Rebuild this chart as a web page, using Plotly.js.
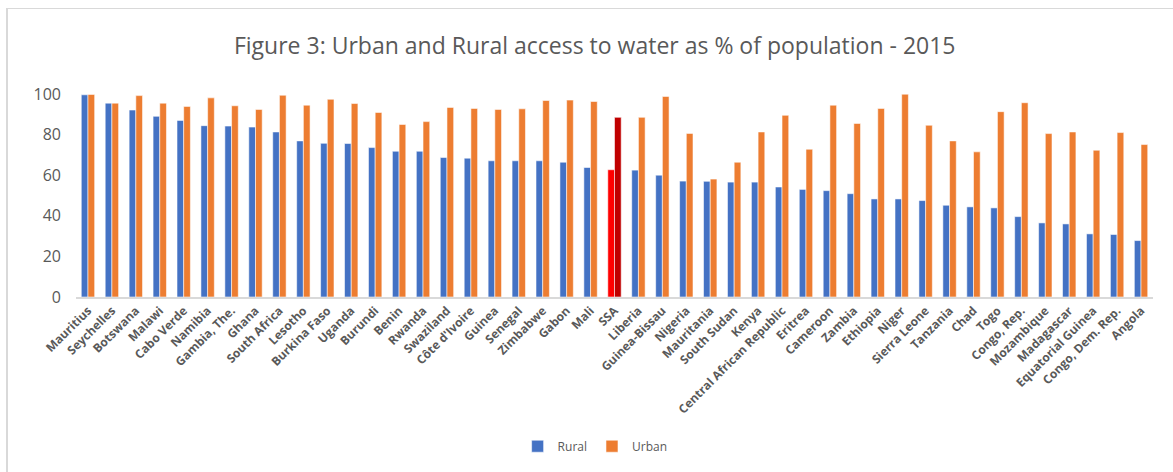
<!DOCTYPE html>
<html>
<head>
<meta charset="utf-8">
<script src="https://cdn.plot.ly/plotly-3.0.1.min.js"></script>
<style>
  html, body { margin: 0; padding: 0; background: #fff; }
  #chart { position: absolute; left: 0; top: 0; width: 1173px; height: 472px; }
  #frame { position: absolute; left: 6px; top: 8px; width: 1180px; height: 480px;
           border-left: 2px solid #d9d9d9; border-top: 1px solid #d9d9d9; pointer-events: none; }
</style>
</head>
<body>
<div id="chart"></div>
<div id="frame"></div>
<script>
const countries = ["Mauritius","Seychelles","Botswana","Malawi","Cabo Verde","Namibia","Gambia, The.","Ghana","South Africa","Lesotho","Burkina Faso","Uganda","Burundi","Benin","Rwanda","Swaziland","Côte d'Ivoire","Guinea","Senegal","Zimbabwe","Gabon","Mali","SSA","Liberia","Guinea-Bissau","Nigeria","Mauritania","South Sudan","Kenya","Central African Republic","Eritrea","Cameroon","Zambia","Ethiopia","Niger","Sierra Leone","Tanzania","Chad","Togo","Congo, Rep.","Mozambique","Madagascar","Equatorial Guinea","Congo, Dem. Rep.","Angola"];
const rural = [99.6,95.5,92.1,89.0,87.0,84.4,84.2,83.7,81.3,76.9,75.7,75.6,73.6,71.8,71.8,68.7,68.4,67.1,67.1,67.1,66.4,63.8,62.7,62.5,60.0,57.1,57.0,56.6,56.6,54.2,53.0,52.4,50.9,48.3,48.3,47.5,45.2,44.4,43.9,39.6,36.5,36.0,31.1,30.8,27.8];
const urban = [99.8,95.5,99.2,95.5,93.9,98.1,94.2,92.4,99.4,94.5,97.4,95.3,90.9,85.0,86.4,93.4,92.9,92.4,92.7,96.8,97.0,96.3,88.5,88.5,98.8,80.6,58.1,66.4,81.3,89.5,72.8,94.5,85.5,92.9,99.9,84.6,76.9,71.5,91.3,95.7,80.5,81.3,72.3,81.0,75.1];
const highlight = "SSA";

const textColor = "#595959";
const fontFam = "'Open Sans', Lato, sans-serif";
const ruralColors = countries.map(c => c === highlight ? "#FF0000" : "#4472C4");
const urbanColors = countries.map(c => c === highlight ? "#C00000" : "#ED7D31");

const traces = [
  { type: "bar", name: "Rural", x: countries, y: rural,
    marker: { color: ruralColors, line: { color: "rgba(255,255,255,0.55)", width: 1 } },
    hoverinfo: "x+y" },
  { type: "bar", name: "Urban", x: countries, y: urban,
    marker: { color: urbanColors, line: { color: "rgba(255,255,255,0.55)", width: 1 } },
    hoverinfo: "x+y" }
];

const layout = {
  width: 1173, height: 472,
  paper_bgcolor: "rgba(0,0,0,0)", plot_bgcolor: "rgba(0,0,0,0)",
  margin: { l: 76, r: 20, t: 94, b: 174.5 },
  font: { family: fontFam, color: textColor },
  title: { text: "Figure 3: Urban and Rural access to water as % of population - 2015",
           font: { family: fontFam, size: 23, color: textColor },
           xref: "container", x: 0.507, xanchor: "center",
           yref: "container", y: 1 - 46/472, yanchor: "middle" },
  barmode: "group", bargap: 0.44, bargroupgap: 0,
  showlegend: true,
  legend: { orientation: "h", xref: "paper", x: 0.482, xanchor: "center",
            yref: "paper", y: -0.735, yanchor: "middle", itemwidth: 30,
            font: { family: fontFam, size: 12, color: textColor }, traceorder: "normal" },
  xaxis: { type: "category", tickangle: -45, showline: true, linecolor: "#d9d9d9", linewidth: 2,
           ticks: "", showgrid: false, zeroline: false, automargin: false,
           tickfont: { family: fontFam, size: 12, color: textColor, weight: "bold" } },
  yaxis: { range: [0, 100], tickvals: [0,20,40,60,80,100], showgrid: false, zeroline: false,
           showline: false, ticks: "", ticklabelstandoff: 14, automargin: false,
           tickfont: { family: fontFam, size: 16, color: textColor } }
};

Plotly.newPlot("chart", traces, layout, { displayModeBar: false, staticPlot: true });
</script>
</body>
</html>
